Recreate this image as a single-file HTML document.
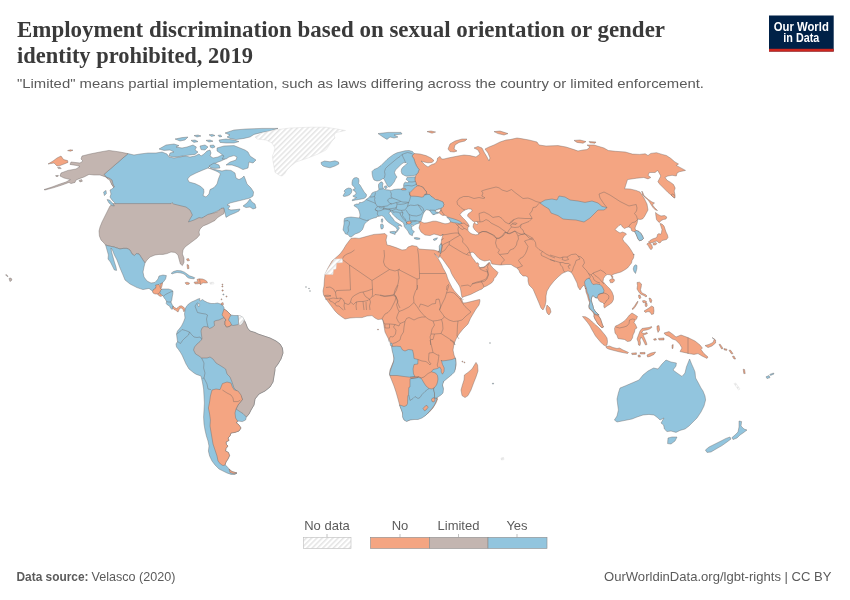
<!DOCTYPE html>
<html lang="en"><head><meta charset="utf-8"><title>Employment discrimination based on sexual orientation or gender identity prohibited, 2019</title>
<style>
html,body{margin:0;padding:0;background:#fff;}
body{width:850px;height:600px;position:relative;overflow:hidden;font-family:"Liberation Sans",sans-serif;}
svg{position:absolute;left:0;top:0;}
.title{font-family:"Liberation Serif",serif;font-weight:bold;fill:#3a3a3a;font-size:24px;}
.sub{font-family:"Liberation Sans",sans-serif;fill:#5b5b5b;font-size:13px;}
.foot{font-family:"Liberation Sans",sans-serif;fill:#5b5b5b;font-size:13px;}
.leg{font-family:"Liberation Sans",sans-serif;fill:#5b5b5b;font-size:13px;text-anchor:middle;}
.logo{font-family:"Liberation Sans",sans-serif;font-weight:bold;fill:#fff;font-size:12px;text-anchor:middle;}
#map path,#map circle{stroke:#6a625f;stroke-width:0.4;stroke-linejoin:round;}
#map path.nd{stroke:#d6d6d6;}
</style></head><body>
<svg width="850" height="600" viewBox="0 0 850 600">
<defs>
<pattern id="hatch" patternUnits="userSpaceOnUse" width="3.75" height="3.75" patternTransform="rotate(45)">
<rect width="3.75" height="3.75" fill="#fff"/><rect x="0" y="0" width="1.5" height="3.75" fill="#e4e4e4"/>
</pattern>
</defs>
<rect width="850" height="600" fill="#fff"/>
<text class="title" x="17" y="37" textLength="648" lengthAdjust="spacingAndGlyphs">Employment discrimination based on sexual orientation or gender</text>
<text class="title" x="17" y="63" textLength="236" lengthAdjust="spacingAndGlyphs">identity prohibited, 2019</text>
<text class="sub" x="17" y="88" textLength="687" lengthAdjust="spacingAndGlyphs">"Limited" means partial implementation, such as laws differing across the country or limited enforcement.</text>
<g id="logo">
<rect x="769" y="15.5" width="64.7" height="36" fill="#002147"/>
<rect x="769" y="48.8" width="64.7" height="2.8" fill="#ce261e"/>
<text class="logo" x="801.3" y="31" textLength="55" lengthAdjust="spacingAndGlyphs">Our World</text>
<text class="logo" x="801.3" y="42.3" textLength="36" lengthAdjust="spacingAndGlyphs">in Data</text>
</g>
<g id="map">
<path d="M414 153.5L420 154L426 155.6L431 158L434 160.6L432 162.4L428 162.8L424 162L421 161L423 163L425 165L428 167L430 165.6L432 164.4L435 163.6L437 161L437.6 158L440 156.4L441.6 159L444 159L448 158L453 157L458 156L464 155L470 155.6L476 157L480 154L478 150L474 148L478 146.4L482 148L484 152L487 157L489 161L490 158L488 153L485 149L489 147L494 145L500 142L506 140L510 139.6L517 138L521 138.6L529 140L537 142L539 145L546 146L558 145.6L566 147L574 149.6L578 151L583 150L587 149.6L590 147L587 145L594 145L604 148L608.3 150.5L615.4 151.3L625.3 152L632.4 154.1L639.5 154.4L645.2 153.8L648 155.5L650.8 153.4L656.5 152.7L662.2 154.4L666.4 155.5L670.7 158.3L674.9 161.9L678.5 164L676.3 165.4L685.5 170.4L679.2 171.8L677 173.2L676.3 176L672.1 175.3L667.8 176L665 177.5L667.1 180.3L670.7 182.4L673.5 184.5L675.2 188.1L674.2 190.9L674.9 194.5L674.6 198L672.1 195.9L667.8 192.3L663.6 188.1L660 184.5L657.9 181.7L659.3 178.9L660.8 176L659.3 173.2L657.6 170.4L655.1 172.5L649.4 172.5L648 175.3L650.8 177.5L648 178.9L643.8 177.5L636.7 178.2L627.5 179.6L624.6 188.8L630 189L636 190.4L640 192L644 198L647 204L648 210L644.5 216.5L642.5 219L640 219.5L638 219L637.5 221L637 223.5L636 225.5L635 228L635.5 230L636.5 230.5L639 231.5L641 233.5L642.5 236L643.5 238.5L642 240L639.5 240.8L638 239L637 236.5L636 234L634.5 231.5L633 231.5L631.5 230.5L631 228L628.5 227L626.5 227.5L624.5 228.5L622.5 227L621 224.5L619 225.5L617 227.5L615 229.5L617.5 231.5L620 233L622.5 232L625 233L626.5 234L624 236.5L622.5 239L624 241.5L626.5 244L629 247L631 250L632.5 252.5L634 255L633.6 254L634 255L633.5 258L632 260.5L631.5 263L629.5 265.5L627.5 268L624.5 270L621 272L617.5 273L614 274L611.5 275.5L613 276.5L612.5 278.5L611.8 277.2L610.5 274.8L607.5 274.5L605.5 275.5L603.5 278.5L603 281.5L605 284L607.5 286.5L610 289L612 292L613.5 296L613.5 299.5L612 302.5L609.5 304.5L607 306L604.5 308L603.8 306.5L604 304L602.5 302.5L600.5 302L599 300.5L597.8 298.2L597 298L595 297.5L593 295.5L591.8 297L591.2 300L592 303L593 306L593.5 308.5L595 311L597 313L598.5 314.5L598.5 314L599 316.5L600.5 319L601.5 322L602.5 325L603.5 327L602 327.8L600 326L598 324L596.5 321.5L595 319L594 316.5L594 314.5L593 312.5L591 310L589 308.5L588.8 305.5L589.8 302.8L588.5 300L587.5 296L586 292L585.5 288L585.6 289L584 285L582 287L580 290L578 287L577 283L575 279L573 275L571 272L568 271L565 272L562 273.6L558 277L554 281L550 286L547 291L546 296L546 301L545 306L543 310L541 308L539 303L536 296L533 289L529 285L528 281L528 277.5L526 276L523 276L520 273L519 270.5L517 268L514 266.5L511 264.5L506 264.5L501 265L500 265L496 264.5L492 264L491 262.5L490.8 261L490 260L487.5 260.5L484.5 261L481.5 260L479 258.5L477 256.5L475 254L473 252.2L470.5 252.5L470.5 253.5L471 255.5L472.5 258L474.5 260.5L475.8 262.5L476.5 263L478 262.8L478.8 264.5L478.2 266.2L479 266.5L480.5 267.5L483 267.2L485 266.5L486.5 265L488 263.5L489 262.2L490 263L490.5 265L492 267L494 269L496.5 271L498 272.5L497.2 274.5L495.5 277L494 278.5L493.5 280.5L491.5 283L489 284.5L486.5 286L484 287L482 289L479.5 290L476.5 291.5L473.5 293L470.5 294.5L467.5 295.5L464.5 296.5L462 297.5L461.5 295L461 292L460.5 289L459.5 286L457.5 283L455.5 280L453.5 277L451.5 273.5L450 269.5L447.5 266L445 262.5L442.5 259L440 256.5L440 254.5L439 257.8L436 255L434.5 253.5L435.5 255.5L438 258.2L439.5 261L441.5 264.5L443 268L445 271.5L446.5 274.5L447.5 278L449 281.5L450.5 284.5L452 287.5L454 290.5L456.2 293L458.5 295.5L460.5 297.5L461.8 299.5L462.5 301.5L463 303L466 302.8L470 301.8L474 300.8L478 299.8L479.8 299.5L480 301L479.5 303L479 305L476 309L473 314L470.4 318.4L468 324L463 329L459 334L456 339L454 344L453 350L454 355L455.6 359L456 365L455 370L452 373.6L448 377L444 380L442 384L443 388L442 392L439 394.4L436.4 396L437.6 399L436 403L433 408L429 412.4L425 415.6L419 418L412 419L407 421L404 419.6L403.6 416L402 411L399.6 405L398 399L396 392L394 386L391.6 380L389.6 375L390 370L392 365L394 360L393.6 354L392.4 348L391 343.6L388 338L385 332L384 326L383 320L383 320L382 319L378 319.6L375 318L372 315.6L367 316L362 317.6L356 317.6L350 318L345 319L342 317L338 314L335 311L332 307L329 303L326 299L323.6 295L323 291L324 286L324.4 280L325 274.4L328 268L332 261L335 258.4L340 254L343 250L346 245L349 241L351 238.4L355 238L359 238.4L362.4 237.6L368 236L374 234.4L380 234L385 233.6L387 235.6L386 240L387 245L390 245.6L396 247.6L402 250L406 249.6L408 247L412 245.6L417 246.4L419 249L426 249.6L434 250L439 251.6L438 252.4L439 251L440 248L441 243L442 238L443 234L441 236L438 235L434 234L430 235.6L425 235L421 232L419 228L420 224L420 224L419 221.5L420.5 221L421.5 222L424 223L427 222.8L430 222L433 221.2L436 221.2L439 222L442 223L445 223.8L448 223.5L450 222.5L451 222L449 217.5L447 216.5L444.5 215L442 213.5L440 212.5L440.5 212L441.2 210.5L440.5 208.5L442 207.8L443.2 206.5L443.8 204.5L443 202L440.5 201L438 200L435.5 199.5L433.5 198L431 196.2L429.5 194.5L427 194.5L424.5 195L426.8 193.5L426.2 191.5L422.5 187L417.5 185.8L416.5 185L415.8 182.5L414.8 180L415 177.5L415.5 176.5L416 175L416 175L418 172.5L419 169.5L416.5 166L415 162.5L414 159L412 156Z" fill="#F4A582"/>
<path d="M460 214.5L462 212L465 210L468.5 208.8L471.5 209.2L472.2 211L470 212.5L468 214L467.5 216L469.5 218L472 220.5L474.5 222L476.5 221.5L478 223L477.5 224.5L475.5 224L474.5 222.5L473.5 224L473 227L474.5 229.5L476.5 231.5L478.5 233L478.5 234.5L475.5 234.8L472 234L469.5 232.5L468 230.5L467.8 228L469 225.5L467.5 223L465.5 220.5L463.5 218.5L461.5 216.5Z" fill="#ffffff"/>
<path d="M324.5 274.5L327.5 269.5L331 264L334.5 259L342.5 258.8L342.5 262.5L336.5 263L336 269L333.5 269.5L333 274.5Z" fill="url(#hatch)" class="nd"/>
<path d="M439.2 246L440.5 244L441.5 243.5L441.8 246.5L441.2 250L440.5 254L439.5 252Z" fill="#92C5DE"/>
<path d="M433 239.5L435 238.5L437.5 237.8L436.5 239.5L434.5 240.5Z" fill="#92C5DE"/>
<path d="M540 203L545 200L552 199L557 200L559 196L565 197L570 200L578 201L585 202.4L592 201L598 203L602 206.4L607 207.6L604 210L598 210L594 214L590 218L584 222L576 220L569 219.6L563 219L558 215.6L551 213L549 209L544 206Z" fill="#92C5DE"/>
<path d="M634.5 231.5L636.5 230.5L639 231.5L641 233.5L642.5 236L643.5 238.5L642 240L639.5 240.8L638 239L637 236.5L636 234Z" fill="#92C5DE"/>
<path d="M584.5 282L586 279.5L589 278L590.5 280L591.5 282.5L593 284.5L596.5 284L600 284.5L602.5 287L604 290.5L603.5 293L601 293.5L598.5 294.5L597.5 296.5L597 298L595 297.5L593 295.5L591.8 297L591.2 300L592 303L593 306L593.5 308.5L595 311L597 313L598.5 314.5L596.5 314.8L594.5 313.5L592.5 311L590.5 309.5L589 307L589.5 304L590 301L589 298L588.5 295L587 292L586.5 288.5L585 285Z" fill="#92C5DE"/>
<path d="M634 266L635.5 264.8L637 265.5L636.8 269L635.5 273.5L634 271.5L633.2 269Z" fill="#92C5DE"/>
<path d="M609.5 280L611.5 278.8L614 279L614.5 280.8L613 282.5L610.5 282.8Z" fill="#F4A582"/>
<path d="M547 305L550 308L551 312L549 315L547 313L546 309Z" fill="#F4A582"/>
<path d="M391.5 346.5L396.5 346.2L400.5 346.5L402.5 350L405 351L408.5 349.5L412.5 350L413.5 354L414 358.5L418 359.5L417.8 364L414 364.5L413 369L413.5 374L415 376.5L410 377.2L404 376.5L397 375.5L390 375.5L389.5 374L390.5 370L392 366L393.5 362L394 358L393 354L392 350Z" fill="#92C5DE"/>
<path d="M390 343.5L392 343L392.5 345.5L390.8 346Z" fill="#92C5DE"/>
<path d="M410 378.8L418 377.5L421 378L422 379.5L424 383L426 386L429 388.5L432 389L434.5 387.5L433.5 389L434.5 393L434.5 397L434 398L436 398L437 399L436 401.5L434.5 405L432 408.5L429 412L425.5 415.5L422 418L418 419.5L414 419.5L410 420L406.5 421.5L404 420L402.5 417L402.5 413L401 409L399.5 405L401.5 405.5L404 406.5L406.5 405.5L407.5 403.5L407.8 396L408.5 395L408.8 387.5L410 387Z" fill="#92C5DE"/>
<path d="M431.5 371.8L433 369.5L437.5 368.5L439.8 367L441.2 369.5L441.2 372.2L442.5 374.2L444 371.5L444.2 368L442.5 364.5L441.2 360L442 361L446 360.5L452 359.5L455.5 358L456 363L455.5 368L454.5 372L452 374.5L449 377L446 379.5L443 382L443.5 382L442.5 385L443.5 389L443 393L441 395L438 397L436.5 398L434 398L434.5 397L434.5 393L433.5 389L434.5 387.5L436.5 385L437.5 382L438 379L437.5 375.5L435.5 373Z" fill="#92C5DE"/>
<path d="M423 408.5L425.5 405.8L427 405.5L428.2 407.2L426 410L424.5 410.8Z" fill="#F4A582"/>
<path d="M431.5 399.5L432.5 398L434.5 398L435 400L434 402L432 401.5Z" fill="#F4A582"/>
<path d="M476 362.4L477.6 365L478 371L476 377L473.6 383L471 390L468 395.6L465 397.6L462 395.6L461 390L462.4 385L464 380L464.4 375L468 372.4L472 369L474.4 365Z" fill="#F4A582"/>
<path d="M128 153.6L134 155L140 154L148 153L150 153L156 153L162 152L167 154L169 157L174 158L180 157L185 156L190 157L195 156L199 154L201 156L204 154L207 151L210 150L211 153L210 156L213 158L218 157L222 155L225 154L227 156L225 159L221 161L217 162.4L214 164L210 166L208 168L222 171L226 170L231 170.4L235 173L236 178L239 179.6L242 178L244 176L245.6 180L247 184L251 188L253.6 192L253 196L250 198L244 199.6L238 201L230 203L227 205L230 206L228 209L231 210L236 209.6L240 209L239 211L235 213L230 215L226 217.4L225 213L223.6 208L190 224L115 208L115 203L112 200L110 197L111 194L110 190L112 189L114 187L112 185L111 182L110 179L107 178L104 174.4Z" fill="#92C5DE"/>
<path d="M187.6 179L190 176L196 173L203 170L208 168L211 169L216 171L219 172.4L220.4 174L218.4 179L217 184L214 187.6L210 189.6L209 194L206 197L203 195.6L204 192L203.6 189L200 186L195 183.6L189 182Z" fill="#ffffff"/>
<path d="M209 166L214 163L219 165L220 168L215 168.4L211 168Z" fill="#92C5DE"/>
<path d="M159 149L166 145L174 144L179 145.6L176 147L182 148L187 147L193 145L196.4 147L195 150L198 152L195 154.4L190 155L185 155.6L180 156.4L174 157L169 156L170 153L174 152L170 150L164 150.4Z" fill="#92C5DE"/>
<path d="M175 139L182 137.6L188 137L185 140L180 141Z" fill="#92C5DE"/>
<path d="M191 140.4L195 140L198 141.6L194 142.4Z" fill="#92C5DE"/>
<path d="M194 135.6L198 135L201 136L197 137Z" fill="#92C5DE"/>
<path d="M209 134.8L212.4 134.4L215 135.6L211.6 136.4Z" fill="#92C5DE"/>
<path d="M218 135.4L220.4 135L222 136.4L219.6 137Z" fill="#92C5DE"/>
<path d="M206 140.4L210 140L213 141.2L209 142Z" fill="#92C5DE"/>
<path d="M219 140L226 139L234 140L239 141.6L234 143L226 143L220 142.4Z" fill="#92C5DE"/>
<path d="M200 146L205 145L208 147L205 150L201 149.6Z" fill="#92C5DE"/>
<path d="M210 145.4L213.6 145L215 147L212.4 148L210.4 147.2Z" fill="#92C5DE"/>
<path d="M225 133L234 130L246 129L262 128.4L278 128.4L270 131L262 132.4L254 134.4L250 137L244 138.4L236 139.6L230 138.4L227 137L230 135Z" fill="#92C5DE"/>
<path d="M217 148L224 146L234 145.6L240 148L245 150L248 152L250 156L256 160L253 163L249 162L248 168L243 169.6L238 167L232 165L226 165L230 162L236 160L237 157L234 155.6L229 157L226 159L222 159L224 156L220 153L217 151Z" fill="#92C5DE"/>
<path d="M255 137L262 133L274 130L290 128L310 127.2L326 127.2L334 128.5L345.5 130.5L336 132.5L334 135L335 138L332 141L330 144L326 150L318 154L308 158L296 162L291 166L287 170L284.5 174L282 176L280 175.6L275 172.4L274 167L273 161L272.4 156L274 152L275 148L272 143L266 140L257 139Z" fill="url(#hatch)" class="nd"/>
<path d="M321 162.5L324.5 161L330 161.8L335 160.8L338.5 162L338.8 164L335 166L330 167.8L326 167L323 166L321.5 164.5Z" fill="#92C5DE"/>
<path d="M243 206L247 203L250 199L252 202L255 204L256 208L253 209L250 207L246 207.6Z" fill="#92C5DE"/>
<path d="M113 203.6L171 203.6L172 202.6L173.6 204L180 205.6L186 207L190 210L192.4 215L190 219L188.4 222L194 220L199 217.6L202 218L208 214.4L214 213L218 211.6L221 208.4L223.6 208L224.4 211L224 213.6L220 216L217 218L215 220.4L210 223L207 224.4L203 226L200 229L199 232L199.6 235L197 238L193 241L189 244L185 247L183 250L182.4 254L184 258L184 262.4L182.4 265.6L180.4 264L179 259L178 255L175 252.4L171 252L167 253.6L163 254.4L159 254.4L155 255L150 257L147 260L145 263L143.6 261L141 257L139 254L136.4 253.6L134.4 255.6L132 254L130 250L127 248.4L123 248.4L120 249L114 247L109 246L105.6 245L104 243L101 240L99.4 236L99 231L100 227L102 222L105 216L108 210L110 206Z" fill="#C3B5B0"/>
<path d="M128 153.6L120 152L109 150.4L100 152L90 154L82 156L81 159L83 161L80 163L71 162L70 164.4L77 165.6L80 166.4L76 169L68 170.4L61 173L60 176L64 178L70.4 179.6L66 182L60 184L52 187L44 189.6L45 190L54 187.6L62 185L69 182.4L71 183.6L75 182.4L76 180L80 178.4L84 177L89 174.4L94 175L100 175L104 176.4L109 178L112 180L113 184L114.4 187L113.6 187.6L111 183L109.6 180L107 178.4L104 174.4Z" fill="#C3B5B0"/>
<path d="M48 164L53 161L57 158L61 156L63.6 159.6L67.6 160.6L68 162.4L64 164L60 165.6L57 166L54 163Z" fill="#F4A582"/>
<path d="M67.6 150.6L70.4 149.8L73 150.2L70.4 151.2Z" fill="#F4A582"/>
<path d="M105.6 245L109 246L114 247L120 249L123 248.4L127 248.4L130 250L132 254L134.4 255.6L136.4 253.6L139 254L141 257L143.6 261L145 263L144 267L143 272L144 277L147 281L151 283L155 282.4L158 279L159 276L163 275L166.4 275.6L165.6 279L163 282.4L161 284L160 284L158 285L156 287.6L154 289L153.6 292L149 288.4L143 289.6L137 287.6L130 284L125 280L123 275L120 268L117 260L114.4 255L112.4 250L111 248L111.6 252L113 257L114.4 262L116 267L116.6 270.4L114.4 270L112.4 266L110.4 262L108 259L108.4 255L107 250Z" fill="#92C5DE"/>
<path d="M9 278.4L11 278L12 280L10 281.6Z" fill="#C3B5B0"/>
<path d="M5.6 274.8L6.8 274.8L8 276.4L7.2 276.6Z" fill="#C3B5B0"/>
<path d="M372 193L374.5 191.8L377 191.2L379 189.5L378.5 187L378.5 184.5L380 182.5L382 181.8L383 183.5L382.5 186L383.2 188L384 189.2L386.5 189.8L389 190L391 190.5L394 189.5L398 189L401 189L401.5 189L403.8 187.8L403.5 185.5L404 183.2L405.5 182L407.2 182.8L408.8 181.8L407.5 180.5L406.2 179.5L407 177.5L411 177L415.5 176.8L415 177.5L414.8 180L415.8 182.5L416.5 185L417.5 185.8L422.5 187L426.2 191.5L426.8 193.5L424.5 195L427 194.5L429.5 194.5L431 196.2L433.5 198L435.5 199.5L438 200L440.5 201L443 202L443.8 204.5L443.2 206.5L442 207.8L440.5 208.5L438.5 209L436 210L434.8 211L436.5 212.5L435 214L433.5 214.5L432 213L431 211.5L429.5 210.5L428 210L426.2 209.8L425 211L424 212.5L423.2 214L422.5 216L421.8 218.5L421.2 220.5L420.5 221.8L419 221.5L418.7 223.4L417.3 223.7L415.2 224.4L414.1 225.5L413.1 225.8L411.6 224.4L410.9 225.5L412.4 226.2L411.6 227.6L412 229.4L413.1 230.8L414.5 231.8L413.4 232.5L412.7 233.9L412.4 235.7L410.9 235L409.5 234.3L408.8 232.9L408.1 231.5L407.1 230.1L406 228.6L404.9 227.6L404.2 226.2L403.9 224.4L403.5 223L402.1 221.9L400 220.5L397.9 219.1L395.8 217.4L394 215.6L392.6 214.2L391.9 212.8L390.8 211.7L389.4 212.1L389.1 213.5L390.1 214.9L391.2 216.6L392.6 218.1L393.6 219.5L394.4 220.9L395.8 221.9L397.5 223L399.3 224.1L401.1 225.1L401.8 226.5L400.4 225.8L398.9 225.5L397.9 226.2L398.9 227.2L399.3 228.3L398.2 230.1L397.2 231.5L395.8 232.9L395.4 232.2L396.5 231.1L397.2 229.7L396.5 227.9L394.7 226.5L392.6 225.1L390.5 223.7L388.4 222.3L386.6 220.5L385.2 218.8L383.8 216.6L381.6 215.6L379.2 216.3L376.7 216.6L376.5 217.5L374 218L371 219L369 220L367 221.5L364.5 224L363.5 227L362.5 229.5L360 232L358 233L355 234L352.5 236L351 237L349.5 236.5L348 234.5L345.5 234L344.5 232L343 230L343.5 227L344 224L344 221L344.5 218.5L347 217.5L351 217L355 217.5L359.5 218L360 215L359.5 212L358.5 209.5L357 207.5L354.5 206.2L354 205L356.5 204L359 204L359.5 202.5L361.5 202.5L364 201.5L366.2 199.5L367.5 198.5L369.5 197L371 195Z" fill="#92C5DE"/>
<path d="M384.5 186.2L386.5 185.8L387.2 187.5L386 188.8L384.8 188Z" fill="#92C5DE"/>
<path d="M389.8 231.8L391.9 231.5L394.4 231.3L395.8 231.7L395.4 232.9L395.1 234.6L393.6 233.9L391.5 233.2L390.1 232.7Z" fill="#92C5DE"/>
<path d="M381.4 219.1L382.6 218.8L382.8 220.9L382.1 222.6L381.3 221.6Z" fill="#92C5DE"/>
<path d="M380.6 224.4L382.4 223.9L383.4 225.5L383.3 227.6L382.4 229L381.2 229L380.6 226.9Z" fill="#92C5DE"/>
<path d="M414.1 237.8L416.6 237.6L419.8 238.2L419.8 239.2L416.9 239.4L414.5 238.7Z" fill="#92C5DE"/>
<path d="M409 150.5L412.5 151.5L414 153.5L412 156L414 159L415 162.5L416.5 166L419 169.5L418 172.5L416 175L414 175.5L410 176L406.5 176.2L404.5 175.5L402 174L401.2 171.5L401.5 169L403 167L405.5 165L407 163.5L406 162.5L403.5 162.8L401.5 164L399.5 166L397.5 168L395.5 170L394.5 172.5L395.5 175L397 177L395.5 179L394.5 181.5L393 183.5L391.5 185.5L389.5 187L388 186.5L386.8 184.5L385.5 182L384.5 180L383.5 178.5L382.2 179L380 180.5L377 181L374 180L372.8 177.5L372.2 174.5L372 171.5L374 169.5L377.5 168L381 165.5L384 162.5L387 159.5L390 157L393.5 154.5L397 152.8L401 151.8L405 150.8Z" fill="#92C5DE"/>
<path d="M378 133.6L388 132.4L401 132.4L402 134L394 135L398 137L394 138L390 137L387 139.4L383 137Z" fill="#92C5DE"/>
<path d="M352 182.5L352.5 180L354 178L356.5 177.5L358.5 178.5L359 181L358.5 183.5L360 185L361.5 187.5L363 190L364.5 192.5L366.2 194L366.5 196L365.5 197.5L364 198.5L361.5 199L358.5 199.5L355.5 200L352.5 200.8L352 200L355 198.5L356.5 197.5L354 197L352.8 196L355 195L356 193.5L355.5 191.5L354 191L353 189.5L355 189L354.5 187L353 186L352 184.5Z" fill="#92C5DE"/>
<path d="M344 191L346 189L348.5 188L351 188.5L352 190L351.5 192.5L350 194.5L347.5 195.8L344.5 196.5L343 196L344 194L345 192.5Z" fill="#92C5DE"/>
<path d="M417.5 185.8L420 186L422.5 187L424.5 189.5L426.2 191.5L426.8 193.5L424.5 194.5L423.5 196.8L421.5 197.2L418 196.5L414 196.2L411 196.2L409.5 194.8L410 192.5L412 190.5L414 188.5L416 186.5Z" fill="#F4A582"/>
<path d="M401.2 189.2L402.5 188.2L405.5 188.5L406.2 189.8L404 190L401.8 190Z" fill="#F4A582"/>
<path d="M406.4 222.3L407.8 221.4L409.9 221.1L411.3 221.9L410.9 223.5L409.2 224.1L407.4 223.9Z" fill="#F4A582"/>
<path d="M446.8 217.4L449.1 217.6L452.6 218.5L456.2 219.7L459.1 220.9L461.5 222.6L461.8 223.5L459.7 223.8L457.4 223.2L455.6 222.9L453.2 222.6L451.5 222.1L450.3 221.5L450 220.6L448.8 218.8Z" fill="#92C5DE"/>
<path d="M185 310L186 307L188.5 304L191.5 302L195 300.5L198 299L199.8 298.5L199.5 300.5L200 301L202.5 299.5L204.5 301L207.5 302.5L211 303.5L214.5 303.5L217.5 303L220.5 304L222.5 305L224 307.5L224 309L227 311L229 313L231 315L234 315.5L238 315.5L240.5 316L243 317.5L244.5 320.5L246 324L247.5 328L250 331L255 332.5L258 334L264 336L270 338L276 341L280 344L282.4 348L283 353L281 359L278 364L275 368L275 370L274 376L273 382L270 387L265 391L259 394L255 399L254 405L251 410L249 414L246.4 417L245.6 420L242.4 421.6L238 421L236 422.4L239 425L241 428L239 431L235 432.4L231 433L230 436L228 438L229 440.4L226 442L226.4 444.4L228 446L226 448.4L225.6 451L228.4 452.4L229.6 455.6L228 459L226 462L225 465L227 466.4L229 469L232 471.6L235 472.4L237 473L235 474.4L231 474.4L227 473L223 471L219 469L215 465L212 461L209.6 456L208.4 451L209 446L208 441L206.4 436L205 430L204 424L203.6 417L204 410L204.4 403L204 396L203.6 389L202.4 382L201 376L196.4 374.4L194 373L189 369L186 364L182 355L180.5 352.5L178.5 349.5L176.5 347L176 344L177.5 341.5L177 338L176.5 334L177.5 331L180 328L181.5 326L183.5 322L185 318L184.5 314Z" fill="#92C5DE"/>
<path d="M202 328L204 326.5L208 327L209.5 328.5L212 327.5L214.5 325.5L214 321.5L216 320.5L219 320L222 318.5L224 317.5L226 320L225 321.5L225 324.5L226.5 327L229 326.5L231.5 325L233 325.5L236 325L238.5 324.5L240.5 325L242.5 323L244 320L244.5 320.5L246 324L247.5 328L250 331L255 332.5L258 334L264 336L270 338L276 341L280 344L282.4 348L283 353L281 359L278 364L275 368L275 370L274 376L273 382L270 387L265 391L259 394L255 399L254 405L251 410L249 414L246.4 417L243 413.6L239 411L236 409L238 405L240.4 402L242.4 399.6L241 396L238 392L234 388L232 382L230 377L227 374L225.6 369L221 366L216 363L213 359L210 357L207 358L201.6 358L199 356L195.6 354L193.5 350L194.5 347L197 344L200 341.5L202 339L201.5 335L201 331Z" fill="#C3B5B0"/>
<path d="M224 309L227 311L229 313L231 315L229.5 317.5L228.5 320L230.5 322.5L231.5 325L229 326.5L226.5 327L225 324.5L225 321.5L226 320L224 317.5L222 315L223 312Z" fill="#F4A582"/>
<path d="M221 303.5L223 302.5L223.5 304.5L221.5 305Z" fill="#F4A582"/>
<path d="M198 303.8L199.2 303.5L199.8 305L199 306.8L198 306Z" fill="#ffffff"/>
<path d="M238.5 315.5L240.5 316L243 317.5L244.5 320.5L244 320L242.5 323L240.5 325L238.5 324.5L238.5 320Z" fill="url(#hatch)" class="nd"/>
<path d="M212 390L216 389L220 389.6L222.4 383.6L227 382L231 383L232.4 387L234.4 390L238 391L241 395L242.4 399.6L240.4 402L238 405L236 409L235 413L235.6 418L238 421.6L236 422.4L239 425L241 428L239 431L235 432.4L231 433L230 436L228 438L229 440.4L226 442L226.4 444.4L228 446L226 448.4L225.6 451L228.4 452.4L229.6 455.6L228 459L226 462L225 465L223 465.6L220.4 464L218 461L217 456L215 450L213 444L212 438L211 432L210 426L210.4 420L209.6 414L208.4 408L209.6 402L210.4 396Z" fill="#F4A582"/>
<path d="M229 469L232 471.6L237 473L234 473.8L230 472.6Z" fill="#F4A582"/>
<path d="M160.5 290.5L162 289L165 289L168.5 289L171.5 290L173 291.2L172.8 294L172.2 297L171.8 300L171 302L171.8 304L173 306L172.8 308.2L172 309.5L170.5 308L169.5 306L167.5 305L166.2 303.5L166.5 301.5L165.5 299.5L164 297.8L163.5 296.2L162.2 295.5L161.2 294.5L159.5 293Z" fill="#92C5DE"/>
<path d="M155.5 285L159 284.5L160 286.5L160.8 283.5L162.5 282.8L162.2 285L161.5 287.5L160.5 288.5L162 289L160.5 290.5L159.5 293L161.2 294.5L162.2 295.5L161.2 296.5L159 295.8L157.5 294L155 294L153 293L152.5 291.2L153.5 289.5L155.5 288.5L156 286.5Z" fill="#F4A582"/>
<path d="M173 306L174.5 307.5L176.5 308.5L178 307.5L179.5 306L181.5 305.8L183.5 307L184.8 308.5L184.5 311L183.8 311.8L183 309.5L181.5 308L179.8 308.2L179 309.8L178.2 311.8L177 311.5L175.5 310L174 309.5L172.8 308.2Z" fill="#F4A582"/>
<path d="M171.2 273.2L173.5 271.5L177 270.5L181 270.8L184.5 272.2L187 274L189.5 275.8L192.5 276.8L194.8 277.8L194 278.8L191 278.5L188.5 278L186.8 276.8L185.5 275L183 273.5L180 272.8L177 272.5L174 273.2L172 274Z" fill="#92C5DE"/>
<path d="M185 282.8L187 282.2L189.5 283L189 284.2L186.5 284.5Z" fill="#F4A582"/>
<path d="M194 282.2L196.5 281.8L198 282.5L197 279.5L199 278.8L202.5 279L205 280L207 281.5L207.5 282.8L205.5 283L203 282.8L201.5 283.8L200.5 284.8L199.5 283.5L197.5 283.8L195 283.8Z" fill="#F4A582"/>
<path d="M209.8 282.5L213.5 282.2L214 283.8L210.5 284.2Z" fill="url(#hatch)" class="nd"/>
<path d="M187 264.5L188.5 265L189 268.5L187.5 268.8Z" fill="#F4A582"/>
<path d="M186.5 259L188.5 258.5L189.5 260.5L187.5 261Z" fill="#F4A582"/>
<path d="M620 388L625 386L632 383L639 380L643 375L648 371L653.6 368L658 369L662 364L666 360L671 362L676.4 363L676 366L673 370L677 373L682 376.4L685 373L686.4 367L689.6 359L691.6 364L693.6 368.4L695 372L695.6 378L698.4 383L701 388L703 391L705 396L705.6 400L704 406L701 412L697 418L693 422L689 426L685 429L680 430.4L676 432.4L671 431L667 431.6L664.4 429L663.6 425L661 423L664 418L660 420L658 418L654 415L649 414.4L643 415L637 417L632 419L627 420L622 421L617 422L614.4 420L617 416L618.4 410L617.6 404L617 399L618.4 393Z" fill="#92C5DE"/>
<path d="M668 438L672 437L677 437L675 441L671 444L667.6 443.6Z" fill="#92C5DE"/>
<path d="M739 421L741.6 421.6L741 426L744 429L747 430L743 433L740 435L737 438L733 439.6L732 437.6L735 435L738 432L739 427Z" fill="#92C5DE"/>
<path d="M730 437L731 439L727 442L722 445.6L716 449L711 452L707 452.4L705.4 450L709 447L715 444L721 441L726 438.4Z" fill="#92C5DE"/>
<path d="M766 376.8L769 375.6L770 377.6L767 378.6Z" fill="#92C5DE"/>
<path d="M734 383.6L735.6 383L740 389L738.6 390Z" fill="url(#hatch)" class="nd"/>
<path d="M743.2 369.2L744.6 369.6L745.2 373.6L743.8 373.6Z" fill="#F4A582"/>
<path d="M582.5 316.5L585.5 316.8L588.5 318.5L591.5 321L594.5 324L597.5 326.5L600 329L602.5 332L605 335L607 338L607.5 341.5L607 345L605.5 346L603 344.5L600.5 342L598 339L595.5 336L593.5 332.5L591.5 329L590 326L587.5 322.5L585 319.5Z" fill="#F4A582"/>
<path d="M594 314.5L596.5 315L599 316.5L600.5 319L601.5 322L602.5 325L603.5 327L602 327.8L600 326L598 324L596.5 321.5L595 319L594 316.5Z" fill="#F4A582"/>
<path d="M606 346.5L609.5 346L613 347.5L617 348.5L619.5 348L623 350L626.5 351.5L628.5 352.5L627.5 353.5L624 352.8L620 352L616 351L612 350L608.5 349L606.5 348Z" fill="#F4A582"/>
<path d="M631.6 353.2L636.4 352.8L636.4 354.4L632 354.6Z" fill="#F4A582"/>
<path d="M638 355.2L640 355L640.4 357L638.4 357Z" fill="#F4A582"/>
<path d="M640 352.6L645 352.4L645 354L640.4 354Z" fill="#F4A582"/>
<path d="M647 355L651 353L655.6 352L654 354.4L650 356.4L647.6 357Z" fill="#F4A582"/>
<path d="M614.5 328.5L615.5 326L618 325L620.5 323.5L623 322L625.5 320L627.5 317.5L629.5 315L632 313L634.5 314.5L637.5 316.5L636.5 319L635 320.5L634 322.5L635.5 324.5L637 328L635 329L634.5 332L633 335L632.5 338L630.5 341L627.5 341.5L624.5 339.5L621 339L618 338.5L617 335.5L615 333Z" fill="#F4A582"/>
<path d="M637 339L638.5 335L640 331L642 328.5L645 328L649 327.5L651.5 326.5L651.8 327.5L649.5 329L646.5 330L643.5 330.5L641.5 332.5L644 333.5L647 332.5L647.5 333.5L645 334.5L643 335L644.5 338L646 341.5L647 344.5L645.5 345L644 342L642.5 339L641 337L640 340L640.5 343L640 345.5L638.5 345L638.2 342Z" fill="#F4A582"/>
<path d="M657 326L659 325.6L659.6 330L658 332.4L657 329Z" fill="#F4A582"/>
<path d="M653.6 339L656 338.6L656.4 340L654 340.2Z" fill="#F4A582"/>
<path d="M658.4 338.4L664 338L664 340L659 340Z" fill="#F4A582"/>
<path d="M664 333L669 331.6L673 334.4L676 337L681 335L688 337.6L695 341L700 345L702.4 348L701 349.6L704 353.6L708 357L707 358.4L702 356L698 353.6L694 354.4L689 353.6L684 352.4L680 351.6L682 348L679.6 344L675.6 340L672.4 339L669 336.4L665.6 335Z" fill="#F4A582"/>
<path d="M672 345L673.2 344.6L673 348.4L672 348.4Z" fill="#F4A582"/>
<path d="M705 345.6L709 344.4L713 342.4L714.4 339L712 337.6L715.6 340L715.6 343L712 346L708 347.6Z" fill="#F4A582"/>
<path d="M719 344.4L720.4 344.4L723 348.4L721.6 349Z" fill="#F4A582"/>
<path d="M724 348.6L727 349.2L726.6 350.4L724 349.8Z" fill="#F4A582"/>
<path d="M729 350.4L730.4 350L733 353.6L731.6 354Z" fill="#F4A582"/>
<path d="M732.4 356.4L734 356L735.6 359L734 359Z" fill="#F4A582"/>
<path d="M637 282.5L639.5 282.2L641.5 284L641.2 287L640.5 289.5L641.2 292L643 293.5L645.5 294.5L647 296L646 297L644 295.5L641.5 294.5L640 293.5L638.5 291.5L637 289L637.5 285.5Z" fill="#F4A582"/>
<path d="M638.5 295.2L640 295L640.8 297.5L639.8 299L638.8 297.5Z" fill="#F4A582"/>
<path d="M642.5 300.8L644.5 300.5L646.5 301.5L646 303.2L644.5 302.8L643 302.5Z" fill="#F4A582"/>
<path d="M645.5 303.5L646.8 303L647.2 305.5L646 307L645 305Z" fill="#F4A582"/>
<path d="M649 298L650.8 298.5L651.8 300.5L651.2 302.8L650 302L649.5 300Z" fill="#F4A582"/>
<path d="M632 309L634.5 306L637 302L638 301.2L637.5 303L635.5 306.5L633 309.5Z" fill="#F4A582"/>
<path d="M644 311L646.5 309.5L649 308L651.5 306L653.5 307L654 311L653.5 314L651.5 314.5L650 312L648 311.5L645.5 312.5Z" fill="#F4A582"/>
<path d="M660 223.5L662 224L664 226L665 229L666 232L667.5 235L668 237.5L666.5 239.5L664.5 240L662 240.5L660.5 242.5L659 243L657 241L655 241.5L653 242.5L650 243L648.5 242L650 240.5L652.5 239L655.5 238L657 237L657.5 234.5L659 233.5L660.5 234.5L661.5 232.5L662 229.5L661 226.5Z" fill="#F4A582"/>
<path d="M646.8 244L648.5 242.8L650.5 243.5L652 245.5L652.5 248L651 249.8L649.5 248L648.5 246Z" fill="#F4A582"/>
<path d="M653 243.5L655.5 242.5L657 243.5L655.5 245L653.5 245Z" fill="#F4A582"/>
<path d="M655.5 212.5L658 214.5L661 216L664.5 215.5L666.8 217L666 219L663.5 219.5L661 220.5L659.5 222.5L658 221.5L656.5 219.5L656 216.5Z" fill="#F4A582"/>
<path d="M642.5 195L645 196.5L648.5 199.5L652 202L654.5 203L653 204L652.5 205L654.5 207.5L657.5 210.5L655.5 210L653 207.5L651 204.5L649.5 202L647.5 199.5L644.5 197L643 193L641.8 191L642.2 193Z" fill="#F4A582"/>
<path d="M671 195L672.5 194L675 195.5L674.8 198L673 197Z" fill="#F4A582"/>
<path d="M448 149L450 144L455 141L462 139L467 139L465 141L459 142.4L455 145L454 149L457 151L454 152L450 151.6Z" fill="#F4A582"/>
<path d="M427 131.6L431 131L435.6 132L432 133.2Z" fill="#F4A582"/>
<path d="M494 131.6L500 131L508 133.6L504 135L498 133.6Z" fill="#F4A582"/>
<path d="M574 140.4L580 140L586 141.6L583 143.2L577 142.4Z" fill="#F4A582"/>
<path d="M589 141.6L596 142L595 143.2L590 142.8Z" fill="#F4A582"/>
<path d="M107 199.6L109.6 200L112.4 203L114.4 206L112 205.6L109 203Z" fill="#92C5DE"/>
<path d="M103.6 192L106 190.4L106.4 193.6L104.4 195.6Z" fill="#92C5DE"/>
<path d="M57.6 167.4L60 167.2L61.2 168.6L58.4 168.6Z" fill="#C3B5B0"/>
<path d="M55.6 175.6L58.4 175.4L58 176.4L56 176.4Z" fill="#C3B5B0"/>
<path d="M79 180.4L81.6 179.6L82.4 181.2L80 182Z" fill="#C3B5B0"/>
<path d="M769.8 374.4L773.5 373L774 374L770.5 375.4Z" fill="#92C5DE"/>
<path d="M501 458L503.5 457.5L504 459.5L501.5 460Z" fill="url(#hatch)" class="nd"/>
<path d="M429.7 210.1L435.3 210.3L435.6 211.8L437.1 212.1L438.8 212.4L439.2 212.8L438.2 213.2L436.2 213.8L434.4 214.4L432.9 214.7L432.1 213.8L431.2 212.6L430.3 211.5Z" fill="#92C5DE"/>
<path d="M435 210.9L436.5 210L438.5 209.4L440.3 209.1L440.9 210L440 211.5L438.8 212.4L437.1 212.1L435.6 211.8Z" fill="#ffffff"/>
<path d="M440.9 209.7L440 211.5L439 212.5L440.3 214.1L442.6 215.4L444.4 215.4L443.2 213.5L441.8 211.5Z" fill="#F4A582"/>
<path d="M222.4 390L227 393L231 395L233 398L233.6 401.6L238 401.6L240.4 400" fill="none"/>
<path d="M163.5 296.2L165.5 294.5L168 293.2L170.5 292L173 291.2" fill="none"/>
<path d="M166.5 301.5L168.5 302L171 302" fill="none"/>
<path d="M160 286.5L160.5 288.5" fill="none"/>
<path d="M157.5 294L159 293.5L159.5 293" fill="none"/>
<path d="M199.5 279L200 281.5L200.5 284.5" fill="none"/>
<path d="M616 327L619.5 328L624 327L627 326L629 323.5L629.5 320L632.5 319L635 319.5" fill="none"/>
<path d="M688 337.6L688 354" fill="none"/>
<path d="M610 195L620 201.5L629 206L633.5 205L636.2 204.5L637 208L636.5 211L634.5 213.5L636.5 216L637.5 219.5L635 222L632.5 222.5L630.5 224L628.5 227" fill="none"/>
<path d="M390.3 191.3L391.4 193.9L391 196.1L392.1 198" fill="none"/>
<path d="M392.1 198L395.5 199.1L398.5 200.3L400.8 201.4L403 202.1L406 202.1L408.6 202.5" fill="none"/>
<path d="M409 191.6L409.8 194.3L410.5 196.9L409.8 199.5L408.6 202.5" fill="none"/>
<path d="M392.1 198L389.5 198.4L387.6 199.9L388.4 201.8L389.9 203.3L391.8 203.9L394 203.3L396.3 202.5L398.9 202.1L400.8 201.4" fill="none"/>
<path d="M378.6 206.3L381.3 206.6L384.6 206.3L387.3 205.9L389.9 204L391.8 203.9" fill="none"/>
<path d="M396.3 202.5L397 204L396.6 207L394.8 208.1L391.8 208.5L388.8 208.9L385 208.5L382.4 207.8L379.8 207.9L378.6 206.3" fill="none"/>
<path d="M397 204L400 204.4L403.8 204L407.5 202.9L408.6 202.5" fill="none"/>
<path d="M396.6 207L395.9 208.9L398.5 210L401.5 210.4L404.5 210L406 208.9L407.5 206.3L408.6 202.5" fill="none"/>
<path d="M407.5 206.3L410.5 205.1L414.3 205.5L418 204.8L421 206.3L423.3 208.5L424 211.5L422.5 213" fill="none"/>
<path d="M406 210L407.5 212.3L409 214.5L412 215.6L416.5 216L420.3 214.9L422.5 213" fill="none"/>
<path d="M418 204.8L419.5 207L421 209.3L422.5 211.5" fill="none"/>
<path d="M409 214.5L409.8 216.8L409.4 219L410.5 220.9L413.5 220.5L416.5 220.9L418.8 221.3" fill="none"/>
<path d="M388.8 208.9L390.3 210L392.5 210.4L394.8 209.6L395.9 208.9" fill="none"/>
<path d="M392.5 210.4L393.3 212.3L395.5 211.9L398.5 212.3L400 213L400.8 215.3L402.3 217.5L403.4 219" fill="none"/>
<path d="M401.5 210.4L403 213L402.3 215.3L403.8 217.5L405.3 219L406 220.9" fill="none"/>
<path d="M400 213L401.5 212.3L403 213" fill="none"/>
<path d="M403.4 219L404.1 219.8L405.3 220.5L406.4 222L406.8 223.5L406 225" fill="none"/>
<path d="M411.1 222L413.5 221.6L416.5 220.9" fill="none"/>
<path d="M344.5 221L348 220.5L349.5 222L349.2 225L348 227L348.5 231L347.2 233.5" fill="none"/>
<path d="M359.5 218L363 219.5L366.5 220.5L369 220" fill="none"/>
<path d="M366.2 199.5L368.5 200.5L371 201.5L373.5 202.5L375.5 203.5L376.5 205L377.5 206.8L376 208L375 209.5L376.5 210.5L377.8 212L377.2 214L378.5 216" fill="none"/>
<path d="M369.5 197L372 197L374.5 196.5L375 198L374.5 199.5L375 201.5L375.5 203.5" fill="none"/>
<path d="M375.5 192.5L375 195L374.5 196.5" fill="none"/>
<path d="M379.2 189.2L381.5 189L383.2 188.8" fill="none"/>
<path d="M377.5 206.8L378.5 206.8" fill="none"/>
<path d="M375 209.5L376.5 210.5L378.5 211L381 210.5L383 209.5L384 207.5L384 206.2" fill="none"/>
<path d="M383 209.5L385 209L387.5 209.5L390.5 210L391 211.8" fill="none"/>
<path d="M402 154.5L400 156.5L397 158.5L394 161L391 163.5L388 166L385.5 168.5L384.5 171.5L385 174.5L384.5 177.5L383.5 178.5" fill="none"/>
<path d="M402 154.5L404.5 153.5L407.5 152.5L410 153L412.5 154" fill="none"/>
<path d="M402 154.5L403 157L404.5 160L405.5 162.5" fill="none"/>
<path d="M408.8 181.8L412 182L415.5 181.5" fill="none"/>
<path d="M404 186L408 185.5L412 186L415 185L416.5 184.2" fill="none"/>
<path d="M342.5 258.8L344 256L347 254L351 252.5L354.5 250" fill="none"/>
<path d="M342.5 259.5L349.5 265L372 280.5L389.5 269.5L395 271L398 270L400 269" fill="none"/>
<path d="M349.5 265L350.5 290L336.5 290.5L335.5 292.5" fill="none"/>
<path d="M389.5 269.5L385 266L383.5 262L384.5 256L384 250" fill="none"/>
<path d="M398 270L399 278L398 284L395 290L394 294L396 296.5" fill="none"/>
<path d="M372 280.5L372.5 289L367 291L363 292" fill="none"/>
<path d="M326 287.5L330 287L333.5 289L335.5 292.5L336 296L337 298.5" fill="none"/>
<path d="M324.5 295.5L328 295.2L331 295.8L328 296.5L324.5 296.2" fill="none"/>
<path d="M325 299.2L329 299L333 298L337 298.5L341 298L343.5 300L344.5 303L348 304.5L349.5 304L350.5 302L351.5 298.5L353.5 296L357 294L360 292.5L363 292L364.5 295L366 297L369.5 299" fill="none"/>
<path d="M329 299L330 301L332.5 302L335 304L336.5 302L339 301.5L341 298" fill="none"/>
<path d="M335 304L336.5 306L339 306L341 308L343.5 310" fill="none"/>
<path d="M344.5 303L344 306L345 310" fill="none"/>
<path d="M369.5 299L368 300.5L363 301.5L359 301.5L356 302L353.5 304.5L350.5 302" fill="none"/>
<path d="M356.5 302L356 306L356.5 310" fill="none"/>
<path d="M363 301.5L363.5 306L364 310" fill="none"/>
<path d="M366 302L366.2 306L366.5 310" fill="none"/>
<path d="M369.5 299L370.5 302L369.5 306L370 310" fill="none"/>
<path d="M369.5 299L372 297L372.5 294.5L372.5 289" fill="none"/>
<path d="M372.5 297L375 294.5L379 295L384 296.5L389 296L393 295.5L396 296.5" fill="none"/>
<path d="M396 296.5L397 300L398 304L400 308" fill="none"/>
<path d="M417.5 248.5L418.5 255L419.5 273L419.5 278.5L417 279L398.5 269.5" fill="none"/>
<path d="M419.5 273.5L445.5 273.5" fill="none"/>
<path d="M417 279L417 290" fill="none"/>
<path d="M449 284L447 286L446.5 290" fill="none"/>
<path d="M380 295L385 296L390 295.5L394 294.5L396 297L395 301L393 305L391 309L388 312.5L385 314L383 317L382 319" fill="none"/>
<path d="M394 294.5L396.5 290L398 285" fill="none"/>
<path d="M396 297L398 301L396.5 304.5L397.5 308L399 311.5L403 310L409 307L414 302.5L413.5 297L415.5 291L417.5 288L417.5 285" fill="none"/>
<path d="M414 302.5L417 306.5L420 311L423.5 315L425.5 317" fill="none"/>
<path d="M419 307.5L420.5 304L424 305L428 306.5L432 304L435.5 303.5L436 299.5L439 299L440 303L440.5 306.5L439.5 310" fill="none"/>
<path d="M439.5 310L442 304L445 298L446.5 293L449 285" fill="none"/>
<path d="M446.5 293L450 292L454 293L457 296L460 299L462 302.5" fill="none"/>
<path d="M460 299L462 298.5L463.5 300" fill="none"/>
<path d="M439.5 310L442.5 314L444.5 317L449 320L453.5 321.5L458 321L462 320L466 316L471 312L465 306.5L462 302.5" fill="none"/>
<path d="M458 321L457.5 325L457 336L459 339" fill="none"/>
<path d="M399 311.5L397.5 315L396.5 318L398.5 322L400 323.5L405 321.5L406.5 318.5L409 317.5L414 320L418 318L422 317L425.5 317L429 319.5L433 321L437.5 320.5L441.5 319.5L444.5 317" fill="none"/>
<path d="M433 321L434.5 325L432 329L431 334L434.5 334L441 333.5L443 329L442.5 323L441.5 319.5" fill="none"/>
<path d="M441 333.5L448 338L454 342L455 345" fill="none"/>
<path d="M431 334L430 337L430.5 339.5L430.5 345" fill="none"/>
<path d="M430.5 339.5L433 339.5L434.5 334" fill="none"/>
<path d="M405 321.5L404 327L403.5 332L401 336L400 340L396 342.5L393 343.5" fill="none"/>
<path d="M382 319L384.5 324L390 324L395 324.5L399 326L400 323.5" fill="none"/>
<path d="M385 324.5L385 328L389.5 328L389.5 324.2" fill="none"/>
<path d="M395 324.5L393.5 327L396 330L395.5 334L393 337L390.5 336.5L388.5 340L389.5 342.5" fill="none"/>
<path d="M408.8 395L410 400.5L413 398.5L415 396.5L418 398.5L420 397.5L422 394.5L425 391.5L427.5 389.5L429 388.5" fill="none"/>
<path d="M418 359.5L422 361L426 361.5L428.5 363.5L430 365L431 363.5L429.5 362.5L428.5 360L429 353L433 352.5L437.5 355L439 355" fill="none"/>
<path d="M418.5 376.5L421 378L424 377L428 373.5L431.5 371.8" fill="none"/>
<path d="M430 340L431 344L432 348L433 352.5" fill="none"/>
<path d="M450 340L453 342L455 345" fill="none"/>
<path d="M439 355L438.5 358.5L438 362L437.2 365L438 367.5" fill="none"/>
<path d="M410 377.2L415 376.8L418.5 376.5L418 377.5L411 378.5" fill="none"/>
<path d="M465 210L462.5 209L460 206.5L457.5 204.5L457 201.5L459 198.5L463.5 196.5L468.5 196.5L474 198.5L479 197.5L483.5 198.5L485 197.8L481.8 196L483 193L481.5 191L486 189.5L492 188L496 187L499 187.8L502 190L507 191.5L511.5 189.5L515 192.5L519 195.5L523 198.5L528 198L532 199.5L536 201.5L540 202.5L538 204.5L536 207L533 207.5L532 211L529.5 214L531.5 217L532 218.5L525 218.5L518 218L514 219.5L511.5 221L509 224L505 222L502 218.5L499 216.5L495 217L493 217.5L489 214.5L484 212L479 213.5L479.5 218.5L480 222L476.5 221.5" fill="none"/>
<path d="M480 222L483 221.5L486 219.5L489 221L491 223L495 225L499 227L503 230L506 232L507 233.5" fill="none"/>
<path d="M478.5 233L483 231.5L487 232L492 234.5L496 238L499 238.5L503 236L506 232" fill="none"/>
<path d="M509 224L512 222L514 219.5" fill="none"/>
<path d="M532 218.5L529 221.5L525 223L521 224.5L519 227L515 227.5L511.5 227L510.5 225L512.5 224L516 224.5L517 223.5L515 222.8L512 223.5" fill="none"/>
<path d="M511.5 227L509 230L507 233.5L511 233L515 231L518 233L522 234.5L525 234" fill="none"/>
<path d="M521 224.5L520.5 228L523 230L524 233L527 236L529 238L533 240" fill="none"/>
<path d="M479 233.5L482 231.5L486 231.5L490 233.5L494.5 235.5L496.5 238.5" fill="none"/>
<path d="M496.5 238.5L495.5 243L497 247.5L499.5 250L498 252.5L499.5 254.5L504 254L508 253.5L510 250L514 248.5L516.5 245L517 242L518.5 239L518 236L516.5 233L515 231L512 232.5L509 234L507 232.5L504.5 232.5L502.5 235.5L499 238L496.5 238.5" fill="none"/>
<path d="M518 236L521 234.5L524.5 233.5" fill="none"/>
<path d="M499.5 254.5L502 257L504.5 260L502 262.5L501 265" fill="none"/>
<path d="M532.5 238L531 239L527.5 240L524.5 241L528 246.5L527 250L525.5 253.5L523 257L520 258.5L518.5 260.5L520.5 263.5L522.5 266L520 267L517 268" fill="none"/>
<path d="M524.5 233.5L528 235.5L532.5 238L535.5 242.5L536 246.5L539 249.5L542.5 251.5L546 254L550 256L555 258" fill="none"/>
<path d="M542.5 251.5L541 253.5L541.5 255.5L546 257.5L550 259.5L555 261.5" fill="none"/>
<path d="M480 268L484 267.5L487 265L488.5 263" fill="none"/>
<path d="M486 269L488 272L488.5 275L487 279L485 281L481 282L476 283L472 284" fill="none"/>
<path d="M550 255L555 256.5L560 258L563 257L567 257L571.5 254.5L576 254L578 256L581 257L583.5 259.5L584.5 263L582.5 266L584 268L586.5 270.5L588.5 273.5L591 275L593 273L597 271.5L600.5 270L604 272L606 274" fill="none"/>
<path d="M550 259.5L555 261L560 262.5L560.5 265L562.5 267L563.5 270.5L565 272.5" fill="none"/>
<path d="M563 257L562 259.5L565 260.5L568.5 259.5L567 257" fill="none"/>
<path d="M569.5 269L568 266L570.5 265L568.5 263.5L565 263.5L563 262.5L560 262.5" fill="none"/>
<path d="M578 256L580 259L576 260.5L575 264L573.5 267L572.5 270.5L571 272.5" fill="none"/>
<path d="M588.5 273.5L590.5 277L588.5 279" fill="none"/>
<path d="M593 273L595 275.5L597.5 277L600 279.5L602 282L604 284" fill="none"/>
<path d="M591 275L593 277L594 280L597 282L600 283" fill="none"/>
<path d="M598.5 294.5L601 293.5L604 293L607 294L609 296L608.5 299L606.5 300.5L605.5 302.5L604 304" fill="none"/>
<path d="M461 286L464 285.5L468 285L470.5 286.5L472.5 283.5L477 282L481 281L483 284.5L484 287" fill="none"/>
<path d="M481 281L486 279L488 275L487.5 272L486 271.5L483 270.5L480 269L479.5 267.5" fill="none"/>
<path d="M487.5 272L488 269L487.5 266.5L489 263.5" fill="none"/>
<path d="M607 207.6L604 204L600 198L599 194L604 192L610 195" fill="none"/>
<path d="M441.5 235L446 234.5L451 233.5L455 233L458.5 233L458 229.5L458.5 226.5L457 225L455.5 223.5" fill="none"/>
<path d="M457 225L459.5 224.5L462 226L464 228.5L462.5 229.5L460.5 228.5L458.5 226.5" fill="none"/>
<path d="M461.5 223.5L464 223L466.5 225L469.5 226.5" fill="none"/>
<path d="M464 228.5L465 228.5L467 230" fill="none"/>
<path d="M458.5 233L459.5 235.5L454 238.5L449.5 241.5L445 243.5L442.5 245" fill="none"/>
<path d="M458.5 233L461 236L463 239L462.5 242L465.5 245L468 248L469.5 251.5L470 253" fill="none"/>
<path d="M449.5 241.5L449 244.5L453 247L458 250L463 253L466.5 254.5L468.5 252.5L470 253" fill="none"/>
<path d="M466.5 254.5L469.5 255.5" fill="none"/>
<path d="M449 244.5L447 247L445 250L442 252L440.5 253" fill="none"/>
<path d="M440.8 240L442.5 239.5L443.5 238" fill="none"/>
<path d="M441.2 244L442.5 245L442 248L441 252" fill="none"/>
<path d="M197.5 302.5L195 306L196.5 310L197.5 312.5L202 313.5L205.5 314L207.5 315L206.5 319L207 322.5L208 327" fill="none"/>
<path d="M176.5 334L179.5 332L182 329.5L185.5 330.5L189.5 332L191.5 334.5L194 337L197 337.5L200 337L201.5 339L202 339" fill="none"/>
<path d="M177.5 341.5L180.5 343.5L182.5 340.5L185 338L188.5 335L189.5 332" fill="none"/>
<path d="M238 315.5L238.5 320L238.5 324.5" fill="none"/>
<path d="M201.6 358L204 363L203.6 368L205 373L204 378L207 384L208 389L211 389.6" fill="none"/>
<path d="M202.4 378.4L204 378" fill="none"/>
<circle cx="222.4" cy="284.5" r="0.5" fill="#F4A582"/>
<circle cx="222.4" cy="286.4" r="0.6" fill="#F4A582"/>
<circle cx="222.6" cy="290.5" r="0.7" fill="#F4A582"/>
<circle cx="223.4" cy="294.5" r="0.6" fill="#92C5DE"/>
<circle cx="226.5" cy="296.5" r="0.6" fill="#F4A582"/>
<circle cx="221.5" cy="299.3" r="0.5" fill="#F4A582"/>
<circle cx="462.4" cy="361.6" r="0.5" fill="#F4A582"/>
<circle cx="464.4" cy="362.4" r="0.5" fill="#F4A582"/>
<circle cx="493" cy="383.6" r="0.6" fill="#92C5DE"/>
<circle cx="490" cy="343" r="0.4" fill="#92C5DE"/>
<circle cx="306" cy="287" r="0.4" fill="#92C5DE"/>
<circle cx="309" cy="288.5" r="0.4" fill="#92C5DE"/>
<circle cx="310" cy="291" r="0.4" fill="#92C5DE"/>
<circle cx="378" cy="329.6" r="0.5" fill="#F4A582"/>
</g>
<g id="legend">
<text class="leg" x="327" y="530">No data</text>
<text class="leg" x="400" y="530">No</text>
<text class="leg" x="458.5" y="530">Limited</text>
<text class="leg" x="517" y="530">Yes</text>
<g stroke="#999" stroke-width="0.6">
<line x1="327" y1="534" x2="327" y2="537.4"/><line x1="400" y1="534" x2="400" y2="537.4"/><line x1="458.5" y1="534" x2="458.5" y2="537.4"/><line x1="517" y1="534" x2="517" y2="537.4"/>
</g>
<rect x="303.5" y="537.4" width="47.5" height="11" fill="url(#hatch)" stroke="#bbb" stroke-width="0.6"/>
<rect x="370.5" y="537.4" width="59" height="11" fill="#F4A582" stroke="#8a8a8a" stroke-width="0.6"/>
<rect x="429.5" y="537.4" width="58.5" height="11" fill="#C3B5B0" stroke="#8a8a8a" stroke-width="0.6"/>
<rect x="488" y="537.4" width="59" height="11" fill="#92C5DE" stroke="#8a8a8a" stroke-width="0.6"/>
</g>
<text class="foot" x="16.5" y="581" font-weight="bold" textLength="72" lengthAdjust="spacingAndGlyphs">Data source:</text>
<text class="foot" x="91.5" y="581" textLength="84" lengthAdjust="spacingAndGlyphs">Velasco (2020)</text>
<text class="foot" x="604" y="581" textLength="227.5" lengthAdjust="spacingAndGlyphs">OurWorldinData.org/lgbt-rights | CC BY</text>
</svg>
</body></html>
